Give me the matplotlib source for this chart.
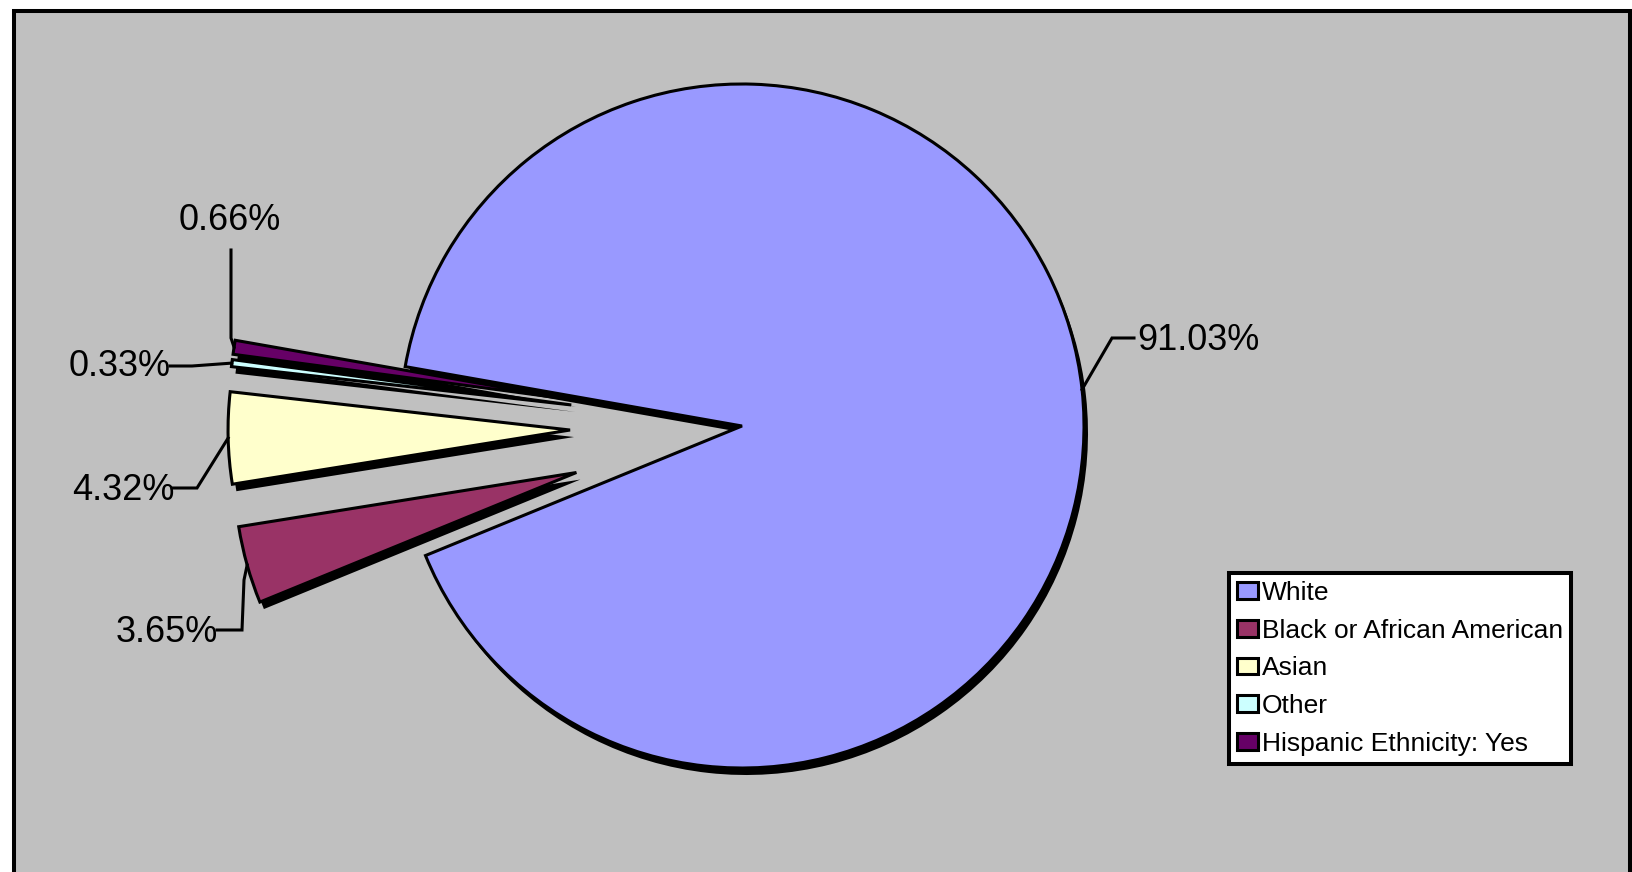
import numpy as np
import matplotlib
matplotlib.use("Agg")
import matplotlib.pyplot as plt
from matplotlib.patches import Rectangle

plt.rcParams["font.family"] = ["Liberation Sans", "DejaVu Sans"]

# data
categories = ["White", "Black or African American", "Asian", "Other",
              "Hispanic Ethnicity: Yes"]
shares = [91.03, 3.65, 4.32, 0.33, 0.66]
pct_labels = ["91.03%", "3.65%", "4.32%", "0.33%", "0.66%"]
colors = ["#9999FF", "#993366", "#FFFFCC", "#CCFFFF", "#660066"]

W, H = 1633, 872


def px(x, y):
    # pixel coords (y down) -> data coords (y up)
    return x, H - y


fig = plt.figure(figsize=(W / 100, H / 100), dpi=100, facecolor="white")
ax = fig.add_axes([0, 0, 1, 1])
ax.set_xlim(0, W)
ax.set_ylim(0, H)
ax.axis("off")

# grey chart area with black frame
ax.add_patch(Rectangle(px(14, 890), 1616, 879, facecolor="#C0C0C0",
                       edgecolor="black", linewidth=2.9, zorder=0))

cx, cy = px(742, 426)
radius = 342
# explode offsets are in data units (= pixels here)
explode = [0, 172, 172, 172, 172]
start = 170

# shadow pass
ax.pie(shares, explode=explode, startangle=start, counterclock=False,
       colors=["black"] * len(shares), center=(cx + 4, cy - 7), radius=radius,
       wedgeprops=dict(linewidth=0, zorder=1), frame=True)
wedges, _ = ax.pie(shares, explode=explode, startangle=start, counterclock=False,
                   colors=colors, center=(cx, cy), radius=radius,
                   wedgeprops=dict(edgecolor="black", linewidth=2.2, zorder=2),
                   frame=True)
ax.set_xlim(0, W)
ax.set_ylim(0, H)
ax.set_aspect("auto")
ax.axis("off")

# label positions and leader elbows (pixel coords)
label_pos = [(1198, 340), (167, 632), (123, 490), (120, 367), (230, 220)]
elbows = [
    [(1134, 338), (1112, 338)],
    [(217, 630), (242, 630), (244, 580)],
    [(172, 488), (197, 488)],
    [(170, 366), (192, 366)],
    [(231, 250), (231, 338)],
]

for w, txt, pos, elb in zip(wedges, pct_labels, label_pos, elbows):
    mid = np.deg2rad((w.theta1 + w.theta2) / 2)
    ax_x = w.center[0] + w.r * np.cos(mid)
    ax_y = w.center[1] + w.r * np.sin(mid)
    pts = [px(*p) for p in elb] + [(ax_x, ax_y)]
    xs, ys = zip(*pts)
    ax.plot(xs, ys, color="black", linewidth=2.2, zorder=3,
            solid_joinstyle="miter")
    ax.text(*px(*pos), txt, fontsize=26, ha="center", va="center", zorder=4)

leg = ax.legend(wedges, categories, loc="upper left",
                bbox_to_anchor=(1229 / W, 1 - 573 / H), bbox_transform=fig.transFigure,
                borderaxespad=0, fontsize=19, frameon=True, fancybox=False,
                edgecolor="black", facecolor="white", framealpha=1,
                handlelength=0.8, handleheight=0.6, handletextpad=0.15,
                labelspacing=0.52, borderpad=0.3)
leg.get_frame().set_linewidth(2.9)

fig.savefig("out.png", dpi=100, facecolor="white")
